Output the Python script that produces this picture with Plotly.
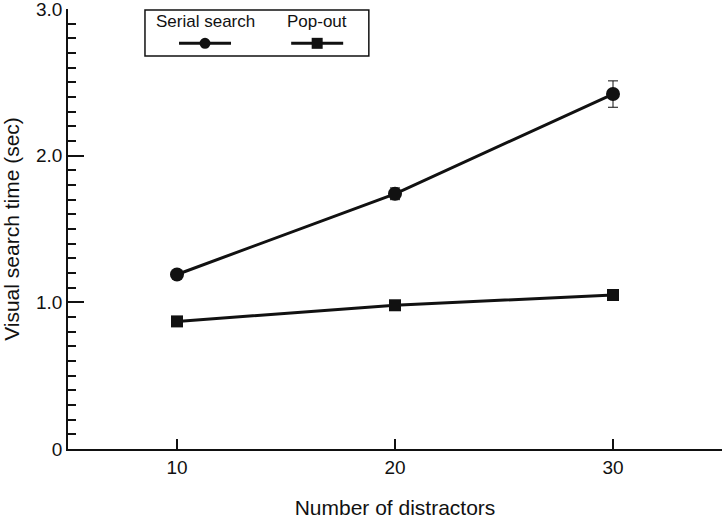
"""
視覚探索時間のグラフ
"""

import plotly.graph_objects as go

# データ
distractors = [10, 20, 30]
serial_time = [1.19, 1.74, 2.42]
serial_err = [0.02, 0.04, 0.09]
popout_time = [0.87, 0.98, 1.05]
popout_err = [0.01, 0.01, 0.01]

y_tickvals = [0, 1, 2, 3]
y_ticktext = ["0", "1.0", "2.0", "3.0"]
x_tickvals = [10, 20, 30]

FONT = "Liberation Sans, Arial, sans-serif"
INK = "#111111"

fig = go.Figure()

fig.add_trace(
    go.Scatter(
        x=distractors,
        y=serial_time,
        name="Serial search",
        mode="lines+markers",
        line=dict(color=INK, width=3),
        marker=dict(symbol="circle", size=14, color=INK),
        error_y=dict(type="data", array=serial_err, color=INK, thickness=1, width=5),
        cliponaxis=False,
    )
)

fig.add_trace(
    go.Scatter(
        x=distractors,
        y=popout_time,
        name="Pop-out",
        mode="lines+markers",
        line=dict(color=INK, width=3),
        marker=dict(symbol="square", size=12, color=INK),
        error_y=dict(type="data", array=popout_err, color=INK, thickness=1, width=5),
        cliponaxis=False,
    )
)

# 手書き風の凡例（テキストの下に記号）
legend_items = [("Serial search", "circle", 0.2095), ("Pop-out", "rect", 0.381)]
shapes = [
    dict(
        type="rect", xref="paper", yref="paper",
        x0=0.1177, x1=0.460, y0=0.893, y1=0.9977,
        line=dict(color=INK, width=1.5), fillcolor="white",
    )
]
annotations = []
for label, sym, cx in legend_items:
    annotations.append(
        dict(
            text=label, xref="paper", yref="paper", x=cx, y=0.9707,
            showarrow=False, xanchor="center", yanchor="middle",
            font=dict(family=FONT, size=17, color=INK),
        )
    )
    shapes.append(
        dict(
            type="line", xref="paper", yref="paper",
            xsizemode="pixel", xanchor=cx, x0=-26, x1=26,
            y0=0.922, y1=0.922, line=dict(color=INK, width=3),
        )
    )
    shapes.append(
        dict(
            type=sym, xref="paper", yref="paper",
            xsizemode="pixel", ysizemode="pixel",
            xanchor=cx, yanchor=0.922,
            x0=-5.5, x1=5.5, y0=-5.5, y1=5.5,
            fillcolor=INK, line=dict(color=INK, width=0),
        )
    )

fig.update_layout(
    width=722,
    height=522,
    margin=dict(l=68, r=0, t=9, b=73, autoexpand=False),
    plot_bgcolor="white",
    paper_bgcolor="white",
    showlegend=False,
    font=dict(family=FONT, size=19, color=INK),
    shapes=shapes,
    annotations=annotations,
    xaxis=dict(
        range=[5, 35],
        tickvals=x_tickvals,
        ticks="inside",
        ticklen=10,
        tickwidth=1.5,
        tickcolor=INK,
        showline=True,
        linecolor=INK,
        linewidth=1.5,
        showgrid=False,
        zeroline=False,
        automargin=False,
        tickfont=dict(family=FONT, size=19, color=INK),
        title=dict(text="Number of distractors", font=dict(family=FONT, size=21), standoff=24),
    ),
    yaxis=dict(
        range=[0, 3],
        tickvals=y_tickvals,
        ticktext=y_ticktext,
        ticks="inside",
        ticklen=16,
        tickwidth=1.5,
        tickcolor=INK,
        minor=dict(dtick=0.1, ticks="inside", ticklen=8, tickwidth=1.5, tickcolor=INK),
        showline=True,
        linecolor=INK,
        linewidth=1.5,
        showgrid=False,
        zeroline=False,
        automargin=False,
        ticklabeloverflow="allow",
        tickfont=dict(family=FONT, size=19, color=INK),
        title=dict(text="Visual search time (sec)", font=dict(family=FONT, size=21), standoff=15),
    ),
)

fig.write_html(
    "out.html",
    config={"displayModeBar": False},
    post_script="document.body.style.margin='0';",
)
